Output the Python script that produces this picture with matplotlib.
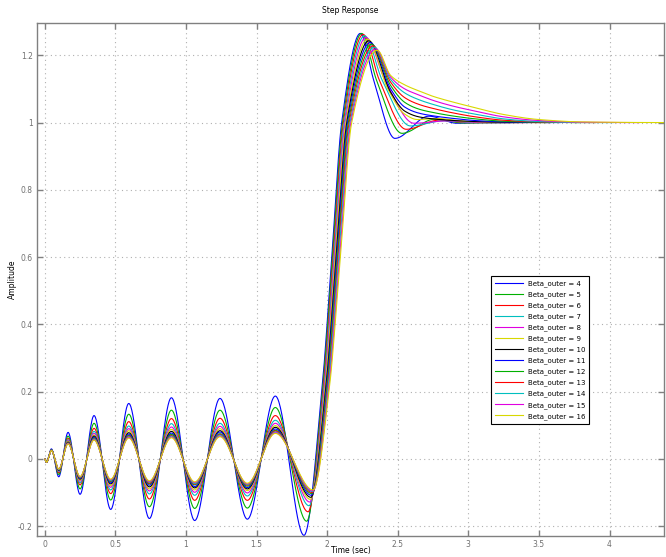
import numpy as np
import matplotlib
matplotlib.use("Agg")
import matplotlib.pyplot as plt

BETA = [4, 5, 6, 7, 8, 9, 10, 11, 12, 13, 14, 15, 16]
COLORS = ['#0000ff', '#00b000', '#ff0000', '#00bfbf', '#e000e0', '#d8d800', '#000000',
          '#0000ff', '#00b000', '#ff0000', '#00bfbf', '#e000e0', '#d8d800']

# oscillation phase: common knot times, values per curve
START_T = [0.0, 0.012]
START_V = [0.0, -0.010]
OSC_T = [0.047, 0.099, 0.165, 0.25, 0.349, 0.467, 0.595, 0.741, 0.897, 1.062, 1.241, 1.435, 1.633]
OSC_V = [
    [0.030, -0.053, 0.079, -0.105, 0.129, -0.150, 0.165, -0.177, 0.182, -0.183, 0.180, -0.179, 0.187],
    [0.028, -0.046, 0.068, -0.089, 0.106, -0.122, 0.133, -0.142, 0.145, -0.147, 0.145, -0.146, 0.153],
    [0.027, -0.041, 0.061, -0.077, 0.091, -0.103, 0.111, -0.119, 0.120, -0.123, 0.121, -0.123, 0.129],
    [0.027, -0.038, 0.057, -0.071, 0.082, -0.092, 0.098, -0.104, 0.105, -0.108, 0.106, -0.110, 0.115],
    [0.026, -0.036, 0.054, -0.066, 0.076, -0.084, 0.090, -0.095, 0.095, -0.099, 0.097, -0.101, 0.106],
    [0.026, -0.035, 0.052, -0.063, 0.071, -0.079, 0.084, -0.089, 0.088, -0.092, 0.090, -0.094, 0.099],
    [0.026, -0.034, 0.050, -0.060, 0.068, -0.074, 0.078, -0.083, 0.082, -0.086, 0.084, -0.089, 0.094],
    [0.026, -0.033, 0.049, -0.058, 0.065, -0.071, 0.074, -0.078, 0.077, -0.082, 0.080, -0.085, 0.089],
    [0.025, -0.032, 0.048, -0.056, 0.062, -0.067, 0.070, -0.074, 0.073, -0.077, 0.075, -0.081, 0.085],
    [0.025, -0.031, 0.047, -0.055, 0.060, -0.065, 0.068, -0.072, 0.070, -0.075, 0.073, -0.078, 0.083],
    [0.025, -0.031, 0.046, -0.054, 0.059, -0.064, 0.066, -0.069, 0.068, -0.073, 0.071, -0.076, 0.080],
    [0.025, -0.030, 0.046, -0.053, 0.057, -0.062, 0.064, -0.067, 0.065, -0.070, 0.068, -0.074, 0.078],
    [0.025, -0.030, 0.045, -0.052, 0.056, -0.060, 0.062, -0.065, 0.063, -0.068, 0.066, -0.072, 0.076],
]
# last trough before the step
TR_T = [1.836, 1.855, 1.865, 1.872, 1.877, 1.881, 1.885, 1.888, 1.891, 1.894, 1.896, 1.898, 1.900]
TR_V = [-0.227, -0.185, -0.157, -0.139, -0.128, -0.120, -0.114, -0.108, -0.103, -0.100, -0.097, -0.095, -0.092]
# rise: times where the curve crosses 0.2, 0.6 and 1.0
RISE_V = [0.2, 0.6, 1.0]
T02 = [1.962, 1.966, 1.971, 1.975, 1.979, 1.983, 1.988, 1.992, 1.996, 2.000, 2.004, 2.009, 2.013]
T06 = [2.033, 2.038, 2.043, 2.048, 2.053, 2.058, 2.064, 2.068, 2.073, 2.078, 2.083, 2.089, 2.094]
T10 = [2.103, 2.109, 2.115, 2.121, 2.127, 2.133, 2.139, 2.144, 2.150, 2.156, 2.162, 2.168, 2.174]
# overshoot peak
PK_T = [2.235, 2.245, 2.255, 2.265, 2.275, 2.285, 2.295, 2.305, 2.315, 2.325, 2.335, 2.345, 2.355]
PK_V = [1.265, 1.265, 1.262, 1.258, 1.253, 1.248, 1.243, 1.238, 1.233, 1.228, 1.224, 1.219, 1.215]
# settling tail
TAIL_T = [
    [2.33, 2.48, 2.72, 2.92, 3.10, 3.30],
    [2.35, 2.53, 2.76, 2.96, 3.35],
    [2.37, 2.56, 2.79, 3.00, 3.40],
    [2.39, 2.59, 2.82, 3.05, 3.45],
    [2.41, 2.615, 2.85, 3.10, 3.50],
    [2.43, 2.55, 2.64, 2.78, 3.00, 3.55],
    [2.45, 2.55, 2.65, 2.75, 2.90, 3.05, 3.25, 3.58],
    [2.45, 2.55, 2.65, 2.75, 2.90, 3.05, 3.25, 3.65],
    [2.45, 2.55, 2.65, 2.75, 2.90, 3.05, 3.25, 3.50, 3.78],
    [2.45, 2.55, 2.65, 2.75, 2.90, 3.05, 3.25, 3.50, 3.90],
    [2.45, 2.55, 2.65, 2.75, 2.90, 3.05, 3.25, 3.50, 3.80, 4.03],
    [2.45, 2.55, 2.65, 2.75, 2.90, 3.05, 3.25, 3.50, 3.80, 4.21],
    [2.45, 2.55, 2.65, 2.75, 2.90, 3.05, 3.25, 3.50, 3.80, 4.40],
]
TAIL_V = [
    [1.126, 0.953, 1.019, 0.998, 1.000, 1.000],
    [1.126, 0.968, 1.010, 0.999, 1.000],
    [1.126, 0.980, 1.007, 1.000, 1.000],
    [1.126, 0.990, 1.005, 1.000, 1.000],
    [1.126, 0.998, 1.005, 1.000, 1.000],
    [1.100, 1.025, 1.009, 1.012, 1.003, 1.000],
    [1.090, 1.034, 1.017, 1.011, 1.006, 1.003, 1.001, 1.000],
    [1.100, 1.046, 1.028, 1.020, 1.012, 1.006, 1.002, 1.000],
    [1.110, 1.060, 1.040, 1.030, 1.019, 1.011, 1.004, 1.001, 1.000],
    [1.120, 1.074, 1.054, 1.042, 1.028, 1.017, 1.007, 1.002, 1.000],
    [1.128, 1.088, 1.068, 1.054, 1.037, 1.025, 1.011, 1.003, 1.000, 1.000],
    [1.135, 1.100, 1.082, 1.066, 1.048, 1.034, 1.017, 1.006, 1.001, 1.000],
    [1.140, 1.112, 1.094, 1.078, 1.060, 1.044, 1.024, 1.009, 1.002, 1.000],
]

X_TICKS = [0, 0.5, 1, 1.5, 2, 2.5, 3, 3.5, 4]
X_TICK_LABELS = ['0', '0.5', '1', '1.5', '2', '2.5', '3', '3.5', '4']
Y_TICKS = [-0.2, 0, 0.2, 0.4, 0.6, 0.8, 1.0, 1.2]
Y_TICK_LABELS = ['-0.2', '0', '0.2', '0.4', '0.6', '0.8', '1', '1.2']


def smooth_line(x, y, n_per=40):
    """Shape-preserving cubic drawing through the read knots."""
    x = np.asarray(x, float)
    y = np.asarray(y, float)
    h = np.diff(x)
    d = np.diff(y) / h
    m = np.zeros_like(y)
    for k in range(1, len(x) - 1):
        if d[k - 1] * d[k] > 0:
            w1 = 2 * h[k] + h[k - 1]
            w2 = h[k] + 2 * h[k - 1]
            m[k] = (w1 + w2) / (w1 / d[k - 1] + w2 / d[k])
    xs, ys = [], []
    for k in range(len(x) - 1):
        s = np.linspace(0, 1, n_per, endpoint=False)
        h00 = 2 * s**3 - 3 * s**2 + 1
        h10 = s**3 - 2 * s**2 + s
        h01 = -2 * s**3 + 3 * s**2
        h11 = s**3 - s**2
        xs.append(x[k] + s * h[k])
        ys.append(h00 * y[k] + h10 * h[k] * m[k] + h01 * y[k + 1] + h11 * h[k] * m[k + 1])
    xs.append([x[-1]])
    ys.append([y[-1]])
    return np.concatenate(xs), np.concatenate(ys)


fig = plt.figure(figsize=(6.66, 5.57), dpi=100)
ax = fig.add_axes([37 / 666, 21 / 557, (664 - 37) / 666, (536 - 23) / 557])

for i, b in enumerate(BETA):
    kt = START_T + OSC_T + [TR_T[i], T02[i], T06[i], T10[i], PK_T[i]] + TAIL_T[i]
    kv = START_V + OSC_V[i] + [TR_V[i]] + RISE_V + [PK_V[i]] + TAIL_V[i]
    xs, ys = smooth_line(kt, kv)
    ax.plot(xs, ys, color=COLORS[i], lw=0.8, label='Beta_outer = %d' % b)

ax.set_xlim(-0.055, 4.386)
ax.set_ylim(-0.229, 1.296)
ax.set_xticks(X_TICKS)
ax.set_xticklabels(X_TICK_LABELS)
ax.set_yticks(Y_TICKS)
ax.set_yticklabels(Y_TICK_LABELS)

ax.grid(True, linestyle=(0, (1, 3)), color='#b0b0b0', linewidth=0.8)
for sp in ax.spines.values():
    sp.set_color('#808080')
    sp.set_linewidth(1.0)
ax.tick_params(direction='in', length=4, width=1, color='#808080', labelcolor='#707070',
               labelsize=5.5, top=True, right=True, pad=3)

ax.set_title('Step Response', fontsize=5.5, pad=7)
ax.set_xlabel('Time (sec)', fontsize=5.5, va='center')
ax.xaxis.set_label_coords(0.5, -(550 - 536) / 513)
ax.set_ylabel('Amplitude', fontsize=5.5, va='center')
ax.yaxis.set_label_coords(-(37 - 12) / 627, 0.5)

leg = ax.legend(loc='upper left', bbox_to_anchor=(491 / 666, 1 - 276 / 557),
                bbox_transform=fig.transFigure, fontsize=5, frameon=True, fancybox=False,
                edgecolor='black', framealpha=1, handlelength=4.0, handletextpad=0.7,
                labelspacing=0.62, borderpad=0.6, borderaxespad=0)
leg.get_frame().set_linewidth(0.8)

fig.savefig('out.png', dpi=100)
